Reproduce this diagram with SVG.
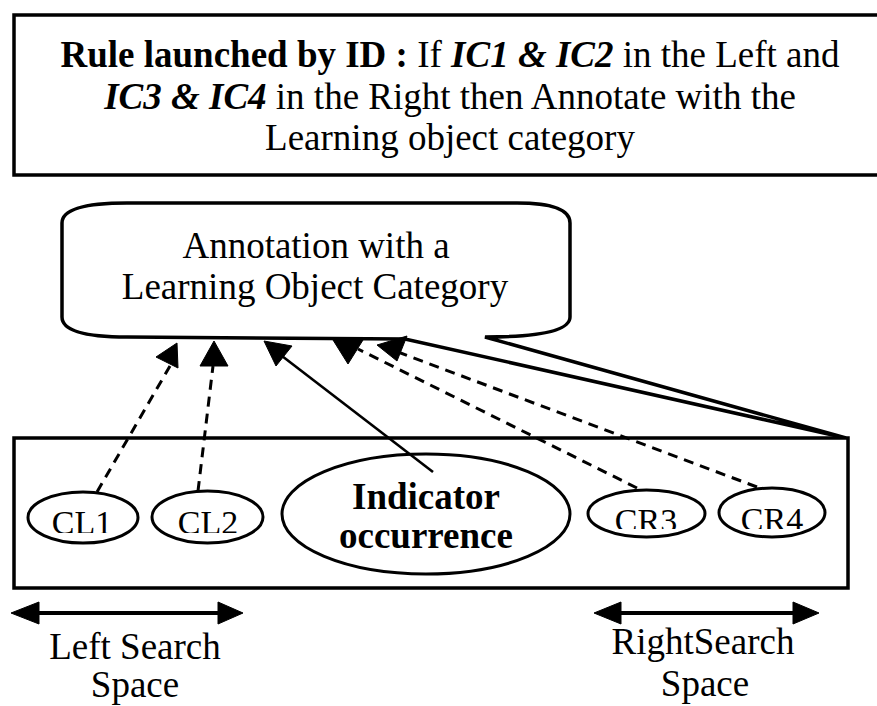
<svg xmlns="http://www.w3.org/2000/svg" width="877" height="706" viewBox="0 0 877 706">
  <style>
    text { font-family: "Liberation Serif", "Times New Roman", serif; fill: #000; }
    .big { font-size: 37px; }
    .small { font-size: 34px; }
    .b { font-weight: bold; }
    .bi { font-weight: bold; font-style: italic; }
    .frame { fill: #fff; stroke: #000; stroke-width: 3.5; }
    .oval { fill: #fff; stroke: #000; stroke-width: 3; }
    .solid { fill: none; stroke: #000; stroke-width: 2.6; }
    .dash { fill: none; stroke: #000; stroke-width: 3; stroke-dasharray: 10 7; }
    .head { fill: #000; stroke: #000; stroke-width: 1; stroke-linejoin: miter; }
    .span { fill: none; stroke: #000; stroke-width: 4; }
  </style>
  <defs>
    <clipPath id="clipLeft"><rect x="0" y="480" width="300" height="53"/></clipPath>
    <clipPath id="clipRight"><rect x="580" y="480" width="280" height="49"/></clipPath>
  </defs>

  <rect width="877" height="706" fill="#fff"/>

  <!-- rule box (runs past the right edge) -->
  <g id="rule">
    <rect class="frame" x="14" y="15" width="870" height="160"/>
    <text class="big" x="450" y="67" text-anchor="middle"><tspan class="b">Rule launched by ID :</tspan> If <tspan class="bi">IC1 &amp; IC2</tspan> in the Left and</text>
    <text class="big" x="450" y="108.5" text-anchor="middle"><tspan class="bi">IC3 &amp; IC4</tspan> in the Right then Annotate with the</text>
    <text class="big" x="450" y="150" text-anchor="middle">Learning object category</text>
  </g>

  <!-- annotation callout with its tail -->
  <g id="annotation">
    <path class="frame" d="M 127,203 L 517,203 Q 570,203 570,223 L 570,317 Q 570,337 485,337 L 846,438 L 405,339 L 127,337 Q 62,337 62,317 L 62,223 Q 62,203 127,203 Z"/>
    <text class="big" x="316" y="258" text-anchor="middle">Annotation with a</text>
    <text class="big" x="315" y="299" text-anchor="middle">Learning Object Category</text>
  </g>

  <!-- search window -->
  <g id="window">
    <rect class="frame" x="14" y="438" width="834" height="150"/>
  </g>

  <g id="cl1">
    <ellipse class="oval" cx="83" cy="517.5" rx="55" ry="25.5"/>
    <text class="small" x="82" y="534" text-anchor="middle" clip-path="url(#clipLeft)">CL1</text>
  </g>
  <g id="cl2">
    <ellipse class="oval" cx="207.5" cy="517" rx="55.5" ry="26"/>
    <text class="small" x="208" y="534" text-anchor="middle" clip-path="url(#clipLeft)">CL2</text>
  </g>
  <g id="indicator">
    <ellipse class="oval" cx="426" cy="514" rx="144" ry="60"/>
    <text class="big b" x="426" y="509" text-anchor="middle">Indicator</text>
    <text class="big b" x="426" y="548" text-anchor="middle">occurrence</text>
  </g>
  <g id="cr3">
    <ellipse class="oval" cx="646.5" cy="513.5" rx="58.5" ry="23.5"/>
    <text class="small" x="646" y="532" text-anchor="middle" clip-path="url(#clipRight)">CR3</text>
  </g>
  <g id="cr4">
    <ellipse class="oval" cx="772" cy="512.5" rx="53" ry="24.5"/>
    <text class="small" x="772" y="531" text-anchor="middle" clip-path="url(#clipRight)">CR4</text>
  </g>

  <!-- connectors -->
  <g id="connectors">
    <line class="dash" x1="97" y1="492" x2="170" y2="366"/>
    <polygon class="head" points="156,357 177,343 178,368"/>

    <line class="dash" x1="198" y1="491" x2="213" y2="366"/>
    <polygon class="head" points="214,341 200,366 228,366"/>

    <line class="solid" x1="433" y1="472" x2="282" y2="356"/>
    <polygon class="head" points="264,341 292,346 276,366"/>

    <line class="dash" x1="637" y1="488" x2="358" y2="349"/>
    <polygon class="head" points="333,340 363,340 348,364"/>

    <line class="dash" x1="757" y1="487" x2="398" y2="352"/>
    <polygon class="head" points="377,345 407,336 397,361"/>
  </g>

  <!-- search space extents -->
  <g id="left-space">
    <line class="span" x1="36" y1="613" x2="221" y2="613"/>
    <polygon class="head" points="11,613 39,602 39,624"/>
    <polygon class="head" points="243,613 218,602 218,624"/>
    <text class="big" x="135" y="659" text-anchor="middle">Left Search</text>
    <text class="big" x="135" y="697" text-anchor="middle">Space</text>
  </g>
  <g id="right-space">
    <line class="span" x1="618" y1="613" x2="796" y2="613"/>
    <polygon class="head" points="594,613 621,602 621,624"/>
    <polygon class="head" points="819,613 793,602 793,624"/>
    <text class="big" x="703" y="654" text-anchor="middle">RightSearch</text>
    <text class="big" x="705" y="696" text-anchor="middle">Space</text>
  </g>
</svg>
